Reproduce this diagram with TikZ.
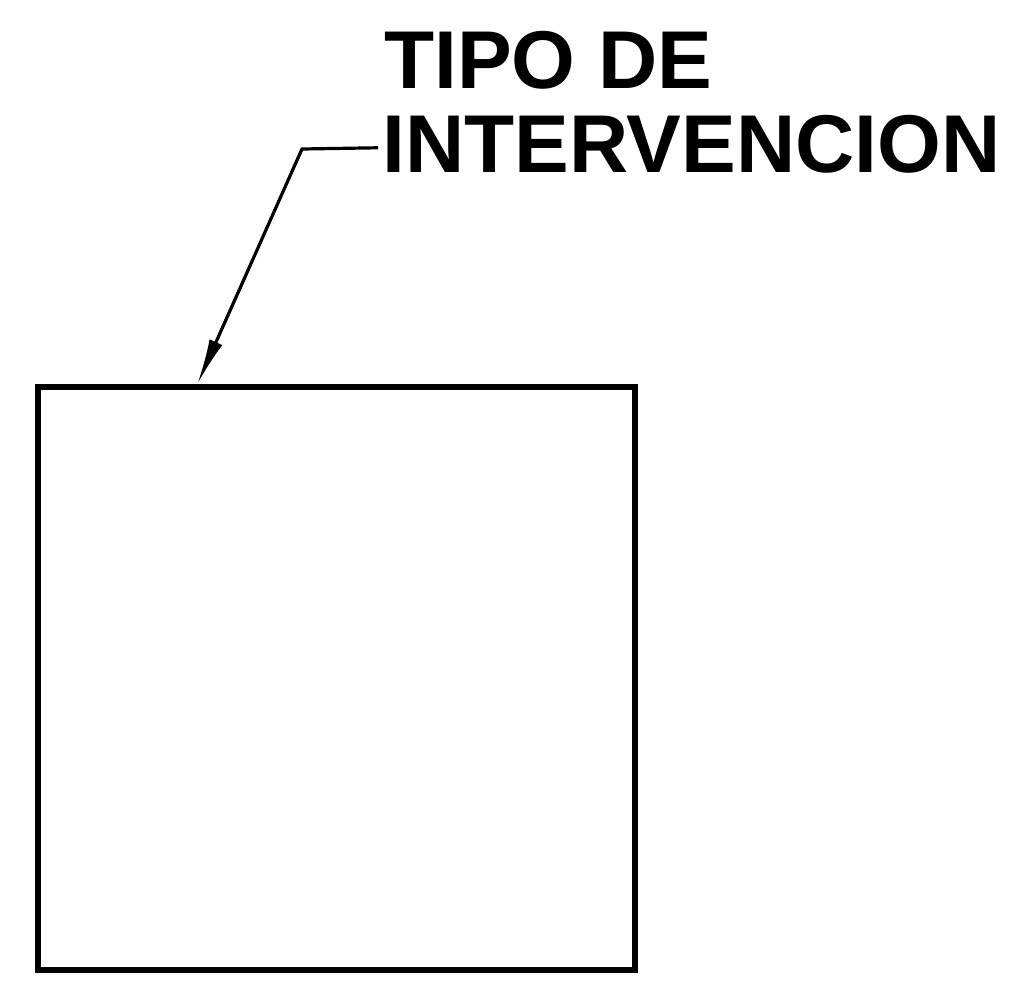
\documentclass[tikz,border=0pt]{standalone}
\usepackage{fontspec}
\setmainfont{Liberation Sans}
\usetikzlibrary{arrows.meta, positioning}

\tikzset{
  callout/.style={font=\bfseries\fontsize{82}{82}\selectfont, inner sep=0pt, anchor=base west},
  zone/.style={draw, line width=5.5pt, inner sep=0pt, minimum width=597pt, minimum height=583pt},
  leader/.style={line width=3.2pt, -{Latex[length=46pt, width=14pt]}}
}

\begin{document}
\begin{tikzpicture}[x=1pt, y=-1pt]
  \useasboundingbox (0,0) rectangle (1033,1005);
  % Recinto
  \node[zone] (recinto) at (336.5,678.5) {};
  % Rotulo
  \node[callout] (tipo) at (384,88) {TIPO DE};
  \node[callout] (interv) at (382,172) {INTERVENCION};
  % Flecha indicadora
  \coordinate (codo) at (302,149);
  \coordinate (punta) at ([xshift=162pt]recinto.north west);
  \draw[leader] ([xshift=-4pt, yshift=-4pt]interv.west) -- (codo) -- (punta);
\end{tikzpicture}
\end{document}
